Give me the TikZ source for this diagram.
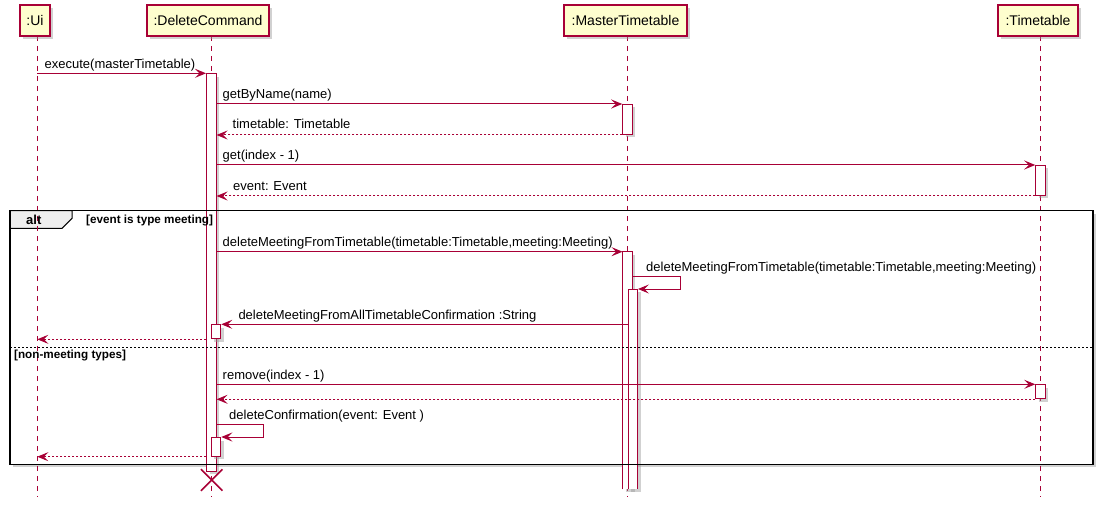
\documentclass[tikz,border=0pt]{standalone}
\usepackage{fontspec}
\setmainfont{Liberation Sans}
\usetikzlibrary{arrows.meta,shadows,shapes.misc}
\definecolor{umlred}{HTML}{A80036}
\definecolor{umlfill}{HTML}{FEFECE}
\definecolor{tabfill}{HTML}{EEEEEE}
\begin{document}
\begin{tikzpicture}[x=1pt,y=-1pt,
  shd/.style={drop shadow={shadow xshift=3pt,shadow yshift=-3pt,fill=black!40,opacity=0.45}},
  participant/.style={draw=umlred,fill=umlfill,line width=1.3pt,inner sep=0pt,minimum height=31pt,font=\fontsize{14}{16}\selectfont,shd},
  lifeline/.style={draw=umlred,line width=1pt,dash pattern=on 5pt off 5pt},
  actbar/.style={draw=umlred,fill=white,line width=1pt,inner sep=0pt,minimum width=9.5pt,anchor=north,shd},
  actopen/.style={fill=white,inner sep=0pt,minimum width=9.5pt,anchor=north,shd},
  barside/.style={draw=umlred,line width=1pt},
  msg/.style={draw=umlred,line width=1pt,-{Stealth[length=11pt,width=9pt,inset=4.5pt]}},
  ret/.style={msg,dash pattern=on 2pt off 2pt},
  lbl/.style={anchor=base west,inner sep=0pt,font=\fontsize{13}{15}\selectfont},
  grd/.style={anchor=base west,inner sep=0pt,font=\fontsize{11.7}{13}\selectfont\bfseries},
]
\fill[white] (0,0) rectangle (1105,505);
\useasboundingbox (0,0) rectangle (1105,505);

% frame background and tab
\node[fill=white,shd,inner sep=0pt,minimum width=1082.5pt,minimum height=253.5pt,anchor=north west] (altf) at (10,210.5) {};
\draw[fill=tabfill,line width=1pt] (altf.north west) -- (72,210.5) -- (72,218.3) -- (62,228.3) -- (altf.north west |- 0,228.3) -- cycle;

% lifelines
\coordinate (uiL) at (37.3,36);
\coordinate (dcL) at (211.3,36);
\coordinate (mtL) at (627.5,36);
\coordinate (ttL) at (1040.5,36);
\coordinate (uiE) at (37.3,497);
\coordinate (dcE) at (211.3,497);
\coordinate (mtE) at (627.5,497);
\coordinate (ttE) at (1040.5,497);
\draw[lifeline] (uiL) -- (uiE);
\draw[lifeline] (dcL) -- (dcE);
\draw[lifeline] (mtL) -- (mtE);
\draw[lifeline] (ttL) -- (ttE);

% participants
\node[participant,minimum width=30pt] (ui) at (35,20.5) {:Ui};
\node[participant,minimum width=122pt] (dc) at (208,20.5) {:DeleteCommand};
\node[participant,minimum width=123pt] (mt) at (625.5,20.5) {:MasterTimetable};
\node[participant,minimum width=80pt] (tt) at (1038,20.5) {:Timetable};

% activation bars
\node[actbar,minimum height=397.4pt] (dcA) at (211.3,73.3) {};
\node[actbar,minimum height=30pt] (mt1) at (627.5,104) {};
\node[actbar,minimum height=30pt] (tt1) at (1040.5,165) {};
\node[actopen,minimum height=237.3pt] (mt2) at (627.5,251.7) {};
\draw[barside] (mt2.south west) -- (mt2.north west) -- (mt2.north east) -- (mt2.south east);
\node[actopen,minimum height=200pt] (mt3) at (633,289) {};
\draw[barside] (mt3.south west) -- (mt3.north west) -- (mt3.north east) -- (mt3.south east);
\node[actbar,minimum height=14pt] (dc2) at (216,324.3) {};
\node[actbar,minimum height=14pt] (tt2) at (1040.5,384.3) {};
\node[actbar,minimum height=18.7pt] (dc3) at (216,437) {};

% messages
\draw[msg] (uiL |- dcA.north) -- (dcA.north west);
\node[lbl] (l1) at (44.5,68.3) {execute(masterTimetable)};

\draw[msg] (dcA.east |- mt1.north) -- (mt1.north west);
\node[lbl] (l2) at (222.5,99) {getByName(name)};

\draw[ret] (mt1.south west) -- (dcA.east |- mt1.south);
\node[lbl] (l3) at (232.5,129) {timetable: Timetable};

\draw[msg] (dcA.east |- tt1.north) -- (tt1.north west);
\node[lbl] (l4) at (222.5,160) {get(index - 1)};

\draw[ret] (tt1.south west) -- (dcA.east |- tt1.south);
\node[lbl] (l5) at (233,190) {event: Event};

\draw[msg] (dcA.east |- mt2.north) -- (mt2.north west);
\node[lbl] (l6) at (222.5,246.7) {deleteMeetingFromTimetable(timetable:Timetable,meeting:Meeting)};

\coordinate (s1) at (680,276.7);
\draw[msg] (mt2.east |- s1) -- (s1) -- (s1 |- mt3.north) -- (mt3.north east);
\node[lbl] (l7) at (646,271.7) {deleteMeetingFromTimetable(timetable:Timetable,meeting:Meeting)};

\draw[msg] (mt3.west |- dc2.north) -- (dc2.north east);
\node[lbl] (l8) at (238.3,319.3) {deleteMeetingFromAllTimetableConfirmation :String};

\draw[ret] (dcA.west |- dc2.south) -- (uiL |- dc2.south);

\draw[msg] (dcA.east |- tt2.north) -- (tt2.north west);
\node[lbl] (l9) at (222.5,379.3) {remove(index - 1)};

\draw[ret] (tt2.south west) -- (dcA.east |- tt2.south);

\coordinate (s2) at (263.3,424.3);
\draw[msg] (dcA.east |- s2) -- (s2) -- (s2 |- dc3.north) -- (dc3.north east);
\node[lbl] (l10) at (229,419) {deleteConfirmation(event: Event )};

\draw[ret] (dcA.west |- dc3.south) -- (uiL |- dc3.south);

% frame border, divider, labels
\draw[line width=1.6pt] (altf.north west) rectangle (altf.south east);
\draw[line width=1pt,dash pattern=on 2pt off 2pt] (altf.west |- 0,347.3) -- (altf.east |- 0,347.3);
\node[anchor=base west,inner sep=0pt,font=\fontsize{13}{15}\selectfont\bfseries] (altlbl) at (26,225) {alt};
\node[grd] (g1) at (86,223.5) {[event is type meeting]};
\node[grd] (g2) at (14,358.5) {[non-meeting types]};

% destroy
\node[cross out,draw=umlred,line width=1.5pt,minimum size=20pt,inner sep=0pt] (dx) at (211.7,480) {};
\end{tikzpicture}
\end{document}
